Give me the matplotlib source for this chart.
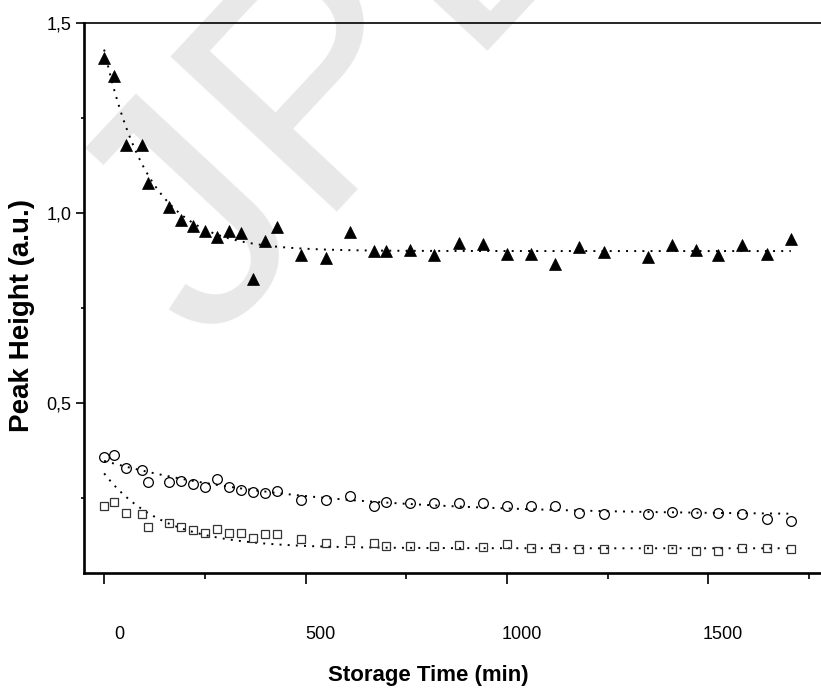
import numpy as np
import matplotlib.pyplot as plt
from matplotlib import font_manager
from matplotlib.transforms import ScaledTranslation

plt.rcParams['font.family'] = 'Liberation Sans'

# storage time (min)
t = [0, 25, 55, 95, 110, 160, 190, 220, 250, 280, 310, 340, 370, 400, 430,
     490, 550, 610, 670, 700, 760, 820, 880, 940, 1000, 1060, 1120, 1180,
     1240, 1350, 1410, 1470, 1525, 1585, 1645, 1705]

# peak heights (a.u.)
tri = [1.408, 1.360, 1.179, 1.180, 1.080, 1.017, 0.983, 0.966, 0.952, 0.938,
       0.953, 0.947, 0.827, 0.927, 0.964, 0.889, 0.882, 0.950, 0.901, 0.901,
       0.904, 0.889, 0.920, 0.918, 0.892, 0.892, 0.865, 0.910, 0.897, 0.885,
       0.916, 0.903, 0.889, 0.916, 0.892, 0.931]
circ = [0.357, 0.363, 0.328, 0.324, 0.292, 0.293, 0.296, 0.287, 0.280, 0.301,
        0.280, 0.271, 0.266, 0.264, 0.268, 0.244, 0.245, 0.256, 0.229, 0.240,
        0.236, 0.238, 0.238, 0.236, 0.228, 0.229, 0.228, 0.210, 0.208, 0.208,
        0.213, 0.211, 0.210, 0.207, 0.194, 0.189]
sq = [0.229, 0.240, 0.211, 0.208, 0.175, 0.185, 0.175, 0.166, 0.157, 0.170,
      0.157, 0.157, 0.144, 0.155, 0.155, 0.142, 0.131, 0.139, 0.132, 0.124,
      0.124, 0.124, 0.126, 0.122, 0.129, 0.120, 0.120, 0.115, 0.115, 0.117,
      0.117, 0.111, 0.111, 0.118, 0.120, 0.116]

# exponential decay fits: y0 + A*exp(-t/tau)
fit_tri = (0.900, 0.530, 112.0)
fit_circ = (0.205, 0.143, 480.0)
fit_sq = (0.118, 0.197, 145.0)

xticks = [0, 500, 1000, 1500]
yticks = [0.5, 1.0, 1.5]
ytick_labels = ['0,5', '1,0', '1,5']

W, H = 821, 690
fig = plt.figure(figsize=(W / 100, H / 100), dpi=100)
ax = fig.add_axes([84 / W, (H - 573) / H, 1 - 84 / W, 550 / H])
ax.set_xlim(-50, 1780)
ax.set_ylim(0.053, 1.5)

# faint background watermark
ax.text(206 / W, 1 - 348 / H, 'JPE', transform=fig.transFigure, fontsize=238,
        rotation=47, rotation_mode='anchor', ha='left', va='baseline',
        color='#e8e8e8', zorder=0, clip_on=False)

tt = np.linspace(0, t[-1], 400)
dots = dict(color='black', lw=1.4, ls=(0, (1, 3.2)), zorder=2)
for y0, a, tau in (fit_tri, fit_circ, fit_sq):
    ax.plot(tt, y0 + a * np.exp(-tt / tau), **dots)

ax.plot(t, tri, ls='none', marker='^', ms=8.5, mfc='black', mec='black',
        mew=0.5, zorder=3)
ax.plot(t, circ, ls='none', marker='o', ms=7, mfc='none', mec='black',
        mew=0.9, zorder=3)
ax.plot(t, sq, ls='none', marker='s', ms=6, mfc='none', mec='#333333',
        mew=0.9, zorder=3)

ax.spines['right'].set_visible(False)
ax.spines['left'].set_linewidth(1.9)
ax.spines['bottom'].set_linewidth(1.9)
ax.spines['top'].set_linewidth(1.2)

ax.set_xticks(xticks)
ax.set_xticks([250, 750, 1250, 1750], minor=True)
ax.set_yticks(yticks)
ax.set_yticklabels(ytick_labels)
ax.set_yticks([0.25, 0.75, 1.25], minor=True)
ax.tick_params(axis='x', which='major', direction='out', length=8, width=1.2,
               pad=30, labelsize=13)
ax.tick_params(axis='x', which='minor', direction='out', length=4.5, width=1.2)
ax.tick_params(axis='y', which='major', direction='out', length=6, width=1.2,
               pad=3, labelsize=13)
ax.tick_params(axis='y', which='minor', direction='out', length=2.5, width=1.2)
ax.tick_params(top=False, right=False, which='both')
for lab in ax.get_xticklabels():
    lab.set_transform(lab.get_transform() +
                      ScaledTranslation(0.15, 0, fig.dpi_scale_trans))

names = {f.name for f in font_manager.fontManager.ttflist}
narrow = 'Liberation Sans Narrow' in names
fig.text(428 / W, 1 - 675 / H, 'Storage Time (min)', ha='center', va='center',
         fontsize=20 if narrow else 16, fontweight='bold',
         family='Liberation Sans Narrow' if narrow else 'Liberation Sans')
fig.text(22 / W, 1 - 316 / H, 'Peak Height (a.u.)', ha='center', va='center',
         rotation=90, fontsize=20, fontweight='bold')

fig.savefig('out.png', dpi=100)
